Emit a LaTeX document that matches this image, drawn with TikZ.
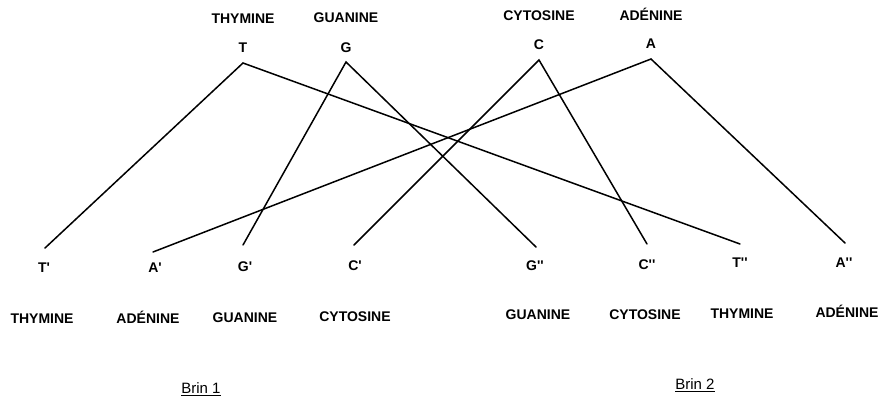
\documentclass[tikz,border=0pt]{standalone}
\usepackage{fontspec}
\setmainfont{Liberation Sans}
\newfontfamily\labfont{Liberation Sans}
\newcommand{\pr}{'}
\begin{document}
\begin{tikzpicture}[x=1pt,y=-1pt,
  lbl/.style={font=\labfont\bfseries\fontsize{14}{16}\selectfont, inner sep=0pt, text height=10pt, text depth=0pt},
  base/.style={font=\labfont\bfseries\fontsize{14}{16}\selectfont, inner sep=0pt, text height=10pt, text depth=0pt},
  brin/.style={font=\fontsize{15}{17}\selectfont, inner sep=1pt},
  strand/.style={line width=1.5pt, line cap=round}]
\useasboundingbox (0,0) rectangle (883,399);
% top names
\node[lbl] (nT) at (243,18) {THYMINE};
\node[lbl] (nG) at (346,17) {GUANINE};
\node[lbl] (nC) at (539,15) {CYTOSINE};
\node[lbl] (nA) at (651,15) {ADÉNINE};
% top letters
\node[base] (T) at (243,47) {T};
\node[base] (G) at (346,47) {G};
\node[base] (C) at (539,44) {C};
\node[base] (A) at (651,43) {A};
\coordinate (Tv) at (243,63);
\coordinate (Gv) at (346,62);
\coordinate (Cv) at (539,60);
\coordinate (Av) at (651,59);
% bottom letters
\node[base] (T1) at (44,267) {T\pr};
\node[base] (A1) at (155,267) {A\pr};
\node[base] (G1) at (245,266) {G\pr};
\node[base] (C1) at (355,265) {C\pr};
\node[base] (G2) at (535,265) {G\pr\pr};
\node[base] (C2) at (647,264) {C\pr\pr};
\node[base] (T2) at (740,262) {T\pr\pr};
\node[base] (A2) at (844,262) {A\pr\pr};
\coordinate (T1e) at (45,248);
\coordinate (A1e) at (153,252);
\coordinate (G1e) at (243,245);
\coordinate (C1e) at (354,245);
\coordinate (G2e) at (536,247);
\coordinate (C2e) at (647,244);
\coordinate (T2e) at (740,244);
\coordinate (A2e) at (845,243);
% bottom names
\node[lbl] (bT1) at (42,318) {THYMINE};
\node[lbl] (bA1) at (148,318) {ADÉNINE};
\node[lbl] (bG1) at (245,317) {GUANINE};
\node[lbl] (bC1) at (355,316) {CYTOSINE};
\node[lbl] (bG2) at (538,314) {GUANINE};
\node[lbl] (bC2) at (645,314) {CYTOSINE};
\node[lbl] (bT2) at (742,313) {THYMINE};
\node[lbl] (bA2) at (847,312) {ADÉNINE};
% strands
\draw[strand] (T1e) -- (Tv) -- (T2e);
\draw[strand] (G1e) -- (Gv) -- (G2e);
\draw[strand] (C1e) -- (Cv) -- (C2e);
\draw[strand] (A1e) -- (Av) -- (A2e);
% brin labels
\node[brin] (b1) at (201,389) {\underline{Brin 1}};
\node[brin] (b2) at (695,385) {\underline{Brin 2}};
\end{tikzpicture}
\end{document}
